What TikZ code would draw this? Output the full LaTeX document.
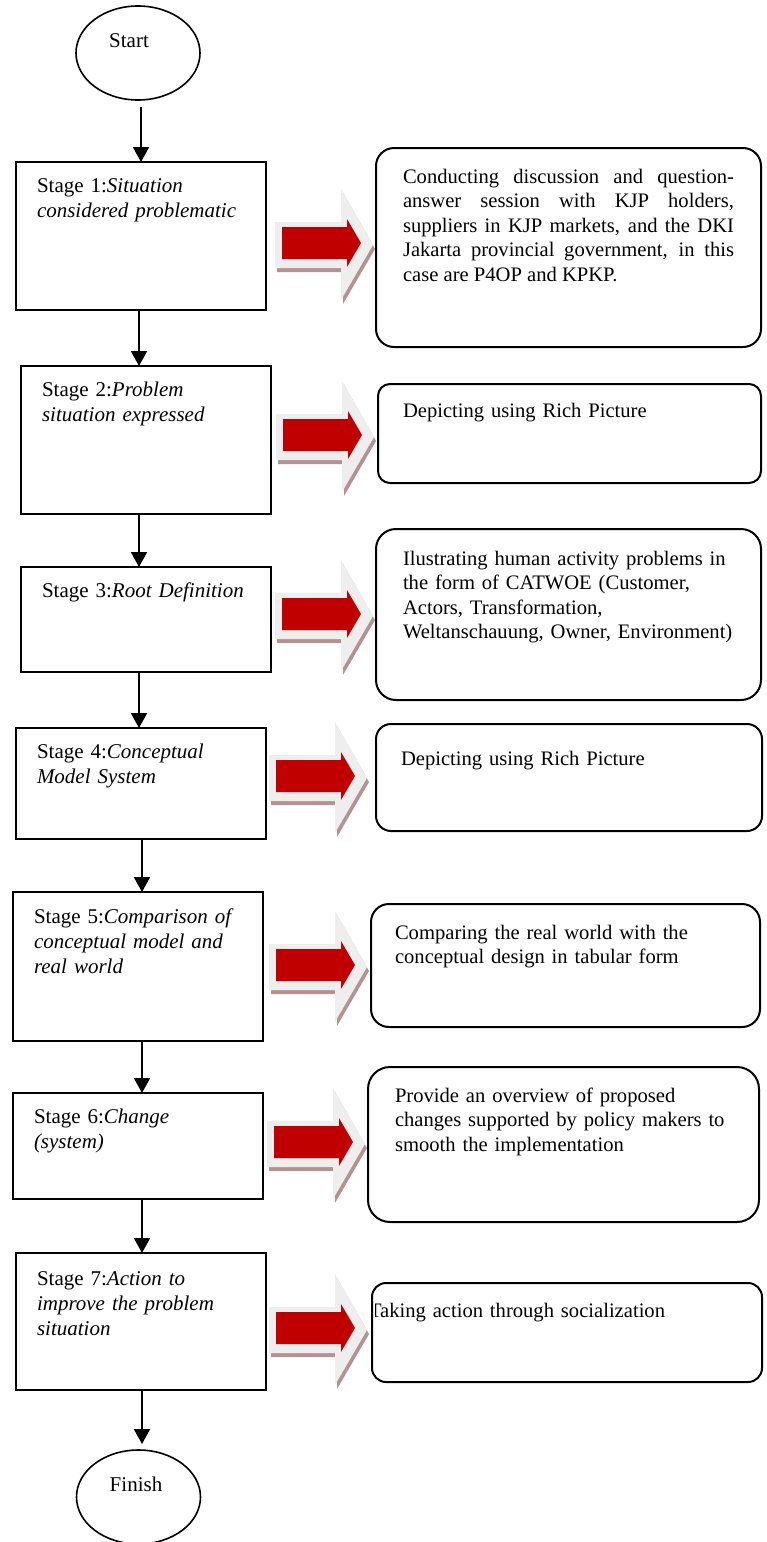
\documentclass[tikz,border=0pt]{standalone}
\usepackage{fontspec}
\setmainfont{Liberation Serif}
\usetikzlibrary{shapes.geometric,arrows.meta}
\definecolor{arrred}{HTML}{C00000}
\definecolor{arrgrey}{HTML}{EEEEEE}
\definecolor{arrshadow}{HTML}{B49292}
\newcommand\blockarr[2]{%
  \begin{scope}[shift={(#1,#2)}]
    \fill[arrshadow] (2,-19) -- (68,-19) -- (68,-52) -- (100,4) -- (68,59) -- (68,27) -- (2,27) -- cycle;
    \fill[arrgrey] (0,-23) -- (66,-23) -- (66,-56) -- (98,0) -- (66,55) -- (66,23) -- (0,23) -- cycle;
    \fill[arrred] (7,-18) -- (72,-18) -- (72,-26) -- (86,-2) -- (72,22) -- (72,14) -- (7,14) -- cycle;
  \end{scope}}
\tikzset{
  stagebox/.style={draw=black, line width=2pt, rectangle, inner sep=0pt, outer sep=0pt, fill=none},
  rbox/.style={draw=black, line width=2pt, rectangle, inner sep=0pt, outer sep=0pt},
  termnode/.style={draw=black, line width=1.6pt, ellipse, inner sep=0pt, outer sep=0pt, minimum width=124pt, minimum height=94pt},
  stxt/.style={font=\fontsize{21}{25}\selectfont, inner sep=0pt, outer sep=0pt, anchor=base west, align=left, text width=240pt},
  rtxt/.style={font=\fontsize{20.6}{24.5}\selectfont, inner sep=0pt, outer sep=0pt, anchor=base west, align=left, text width=345pt},
  ttxt/.style={font=\fontsize{21}{25}\selectfont, inner sep=0pt, outer sep=0pt, anchor=base},
  flow/.style={line width=2pt, -{Triangle[length=15pt,width=16pt]}}
}
\begin{document}
\begin{tikzpicture}[x=1pt,y=-1pt]
\useasboundingbox[fill=white] (0,0) rectangle (767,1542);

% terminals
\node[termnode] (start) at (138,53) {};
\node[ttxt] (startlbl) at (129,47) {Start};
\node[termnode] (fin) at (138.5,1497) {};
\node[ttxt] (finlbl) at (136,1491) {Finish};

% stage boxes
\node[stagebox, minimum width=250pt, minimum height=148pt] (b1) at (141,236) {};
\node[stagebox, minimum width=250pt, minimum height=148pt] (b2) at (146,440) {};
\node[stagebox, minimum width=250pt, minimum height=105pt] (b3) at (146,619.5) {};
\node[stagebox, minimum width=250pt, minimum height=111pt] (b4) at (141,783.5) {};
\node[stagebox, minimum width=250pt, minimum height=149pt] (b5) at (138,966.5) {};
\node[stagebox, minimum width=250pt, minimum height=106pt] (b6) at (138,1146) {};
\node[stagebox, minimum width=250pt, minimum height=137pt] (b7) at (141,1321.5) {};

\node[stxt] (b1t) at (37,192) {Stage 1:\textit{Situation}\\\textit{considered problematic}};
\node[stxt] (b2t) at (42,396) {Stage 2:\textit{Problem}\\\textit{situation expressed}};
\node[stxt] (b3t) at (42,597) {Stage 3:\textit{Root Definition}};
\node[stxt] (b4t) at (37,758) {Stage 4:\textit{Conceptual}\\\textit{Model System}};
\node[stxt] (b5t) at (34,923) {Stage 5:\textit{Comparison of}\\\textit{conceptual model and}\\\textit{real world}};
\node[stxt] (b6t) at (34,1123) {Stage 6:\textit{Change}\\\textit{(system)}};
\node[stxt] (b7t) at (37,1285) {Stage 7:\textit{Action to}\\\textit{improve the problem}\\\textit{situation}};

% connectors
\draw[flow] ([xshift=3pt,yshift=-7pt]start.south) -- (b1.north);
\draw[flow] ([xshift=-2pt]b1.south) -- ([xshift=-7pt]b2.north);
\draw[flow] ([xshift=-7pt]b2.south) -- ([xshift=-7pt]b3.north);
\draw[flow] ([xshift=-7pt]b3.south) -- ([xshift=-2pt]b4.north);
\draw[flow] ([xshift=1pt]b4.south) -- ([xshift=4pt]b5.north);
\draw[flow] ([xshift=4pt]b5.south) -- ([xshift=4pt]b6.north);
\draw[flow] ([xshift=4pt]b6.south) -- ([xshift=1pt]b7.north);
\draw[flow] ([xshift=1pt]b7.south) -- ([xshift=3.5pt,yshift=6pt]fin.north);

% block arrows
\blockarr{275}{245}
\blockarr{276}{437}
\blockarr{275}{616}
\blockarr{269}{778}
\blockarr{269}{967}
\blockarr{267}{1144}
\blockarr{269}{1330}

% right boxes
\node[rbox, rounded corners=18pt, minimum width=385pt, minimum height=199pt] (r1) at (568.5,247.5) {};
\node[rbox, rounded corners=12pt, minimum width=383pt, minimum height=99pt] (r2) at (569.5,433.5) {};
\node[rbox, rounded corners=20pt, minimum width=385pt, minimum height=171pt] (r3) at (568.5,614.5) {};
\node[rbox, rounded corners=15pt, minimum width=386pt, minimum height=107pt] (r4) at (569,777.5) {};
\node[rbox, rounded corners=18pt, minimum width=389pt, minimum height=123pt] (r5) at (565.5,965.5) {};
\node[rbox, rounded corners=22pt, minimum width=391pt, minimum height=155pt] (r6) at (563.5,1144.5) {};
\node[rbox, rounded corners=14pt, minimum width=390pt, minimum height=99pt] (r7) at (567,1332.5) {};

\node[rtxt, align=justify, text width=331pt] (r1t) at (403,183) {Conducting discussion and question-\linebreak answer session with KJP holders,\linebreak suppliers in KJP markets, and the DKI\linebreak Jakarta provincial government, in this\linebreak case are P4OP and KPKP.};
\node[rtxt] (r2t) at (403,417) {Depicting using Rich Picture};
\node[rtxt] (r3t) at (403,565) {Ilustrating human activity problems in\\the form of CATWOE (Customer,\\Actors, Transformation,\\Weltanschauung, Owner, Environment)};
\node[rtxt] (r4t) at (401,765) {Depicting using Rich Picture};
\node[rtxt] (r5t) at (395,939) {Comparing the real world with the\\conceptual design in tabular form};
\node[rtxt] (r6t) at (395,1102) {Provide an overview of proposed\\changes supported by policy makers to\\smooth the implementation};
\begin{scope}
  \clip (375,1284) rectangle (760,1381);
  \node[rtxt] (r7t) at (369,1317) {Taking action through socialization};
\end{scope}
\end{tikzpicture}
\end{document}
